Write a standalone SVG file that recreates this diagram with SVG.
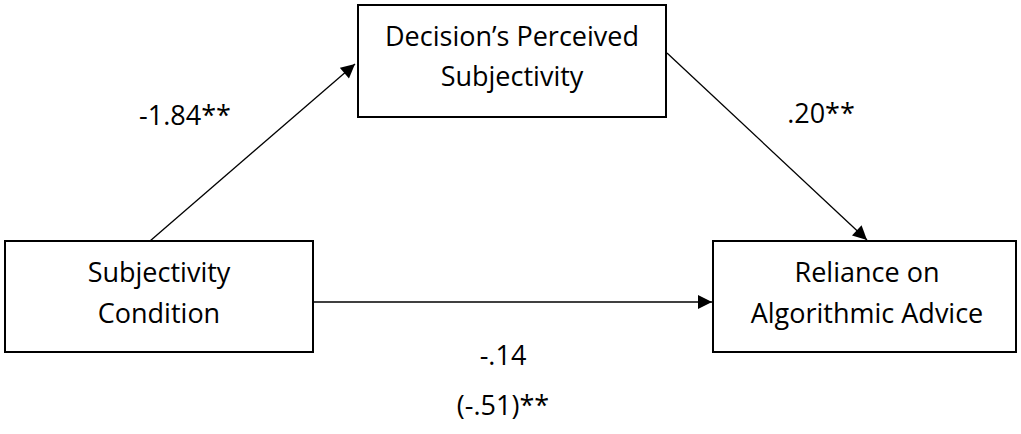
<svg xmlns="http://www.w3.org/2000/svg" width="1021" height="434" viewBox="0 0 1021 434">
<style>
.box{fill:#fff;stroke:#000;stroke-width:2}
.t{font-family:"Open Sans","Noto Sans",sans-serif;font-size:27px;fill:#000;text-anchor:middle}
.c{stroke:#000;stroke-width:1.3;fill:none;marker-end:url(#ah)}
</style>
<defs>
<marker id="ah" viewBox="0 0 10 10" refX="10" refY="5" markerWidth="15" markerHeight="14" markerUnits="userSpaceOnUse" orient="auto"><path d="M0,0 L10,5 L0,10 Z" fill="#000"/></marker>
</defs>
<g id="connectors">
<line class="c" x1="150" y1="241" x2="355" y2="64"/>
<line class="c" x1="667" y1="53" x2="867" y2="240"/>
<line class="c" x1="313" y1="302" x2="712" y2="302"/>
</g>
<g id="n1"><rect class="box" x="5" y="241" width="308" height="111"/>
<text class="t" x="159" y="282">Subjectivity</text><text class="t" x="159" y="323">Condition</text></g>
<g id="n2"><rect class="box" x="358" y="5" width="308" height="112"/>
<text class="t" x="512" y="46">Decision’s Perceived</text><text class="t" x="512" y="86">Subjectivity</text></g>
<g id="n3"><rect class="box" x="713" y="241" width="303" height="111"/>
<text class="t" x="867" y="282">Reliance on</text><text class="t" x="867" y="323">Algorithmic Advice</text></g>
<g id="labels">
<text class="t" x="185" y="125">-1.84**</text>
<text class="t" x="821" y="123">.20**</text>
<text class="t" x="503" y="365">-.14</text>
<text class="t" x="503" y="415">(-.51)**</text>
</g>
</svg>
